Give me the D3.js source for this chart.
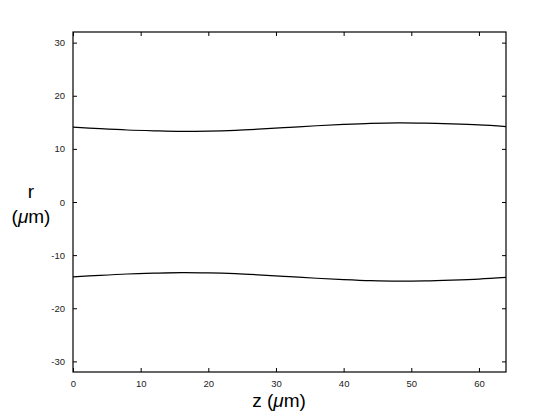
<!DOCTYPE html>
<html><head><meta charset="utf-8">
<script src="https://cdn.jsdelivr.net/npm/d3@7"></script>
<style>body{margin:0;background:#fff}svg{display:block}</style>
</head><body>
<script>
const zValues = [0,4,8,12,16,20,24,28,32,36,40,44,48,52,56,60,64];
const upperR  = [14.1,13.8,13.55,13.4,13.3,13.35,13.5,13.75,14.05,14.35,14.6,14.8,14.9,14.85,14.7,14.5,14.2];
const lowerR  = [-14.1,-13.8,-13.55,-13.4,-13.3,-13.35,-13.5,-13.75,-14.05,-14.35,-14.6,-14.8,-14.9,-14.85,-14.7,-14.5,-14.2];
const xTicks = [0,10,20,30,40,50,60];
const yTicks = [-30,-20,-10,0,10,20,30];

const W=560,H=420, L=73, R=506, T=32, B=372;
const svg=d3.select("body").append("svg").attr("width",W).attr("height",H);
const x=d3.scaleLinear().domain([0,64]).range([L,R]);
const y=d3.scaleLinear().domain([-32,32]).range([B,T]);
const font="Liberation Sans, Arial, Helvetica, sans-serif";
const fmt=d=>String(d);

const ax=(g)=>g.selectAll("text").attr("font-family",font).attr("font-size",9.5).attr("fill","#222");
svg.append("g").attr("transform",`translate(0,${B})`)
  .call(d3.axisBottom(x).tickValues(xTicks).tickSizeInner(-4).tickSizeOuter(0).tickPadding(8).tickFormat(fmt))
  .call(ax);
svg.append("g").attr("transform",`translate(0,${T})`)
  .call(d3.axisTop(x).tickValues(xTicks).tickSizeInner(-4).tickSizeOuter(0).tickFormat(""));
svg.append("g").attr("transform",`translate(${L},0)`)
  .call(d3.axisLeft(y).tickValues(yTicks).tickSizeInner(-4).tickSizeOuter(0).tickPadding(8).tickFormat(fmt))
  .call(ax);
svg.append("g").attr("transform",`translate(${R},0)`)
  .call(d3.axisRight(y).tickValues(yTicks).tickSizeInner(-4).tickSizeOuter(0).tickFormat(""));
svg.selectAll(".domain").remove();
svg.selectAll(".tick line").attr("stroke","#000");
svg.append("rect").attr("x",L).attr("y",T).attr("width",R-L).attr("height",B-T)
  .attr("fill","none").attr("stroke","#000").attr("stroke-width",1.2);

const line=d3.line().x((d,i)=>x(zValues[i])).y(d=>y(d)).curve(d3.curveCatmullRom);
[upperR,lowerR].forEach(s=>{
  svg.append("path").datum(s).attr("d",line).attr("fill","none").attr("stroke","#000").attr("stroke-width",1.2);
});

const lab=svg.append("text").attr("x",279).attr("y",407).attr("text-anchor","middle")
  .attr("font-family",font).attr("font-size",19).attr("fill","#000");
lab.append("tspan").text("z (");
lab.append("tspan").attr("font-style","italic").text("μ");
lab.append("tspan").text("m)");
svg.append("text").attr("x",31).attr("y",198).attr("text-anchor","middle")
  .attr("font-family",font).attr("font-size",19).text("r");
const l2=svg.append("text").attr("x",31).attr("y",223).attr("text-anchor","middle")
  .attr("font-family",font).attr("font-size",19);
l2.append("tspan").text("(");
l2.append("tspan").attr("font-style","italic").text("μ");
l2.append("tspan").text("m)");
</script>
</body></html>
